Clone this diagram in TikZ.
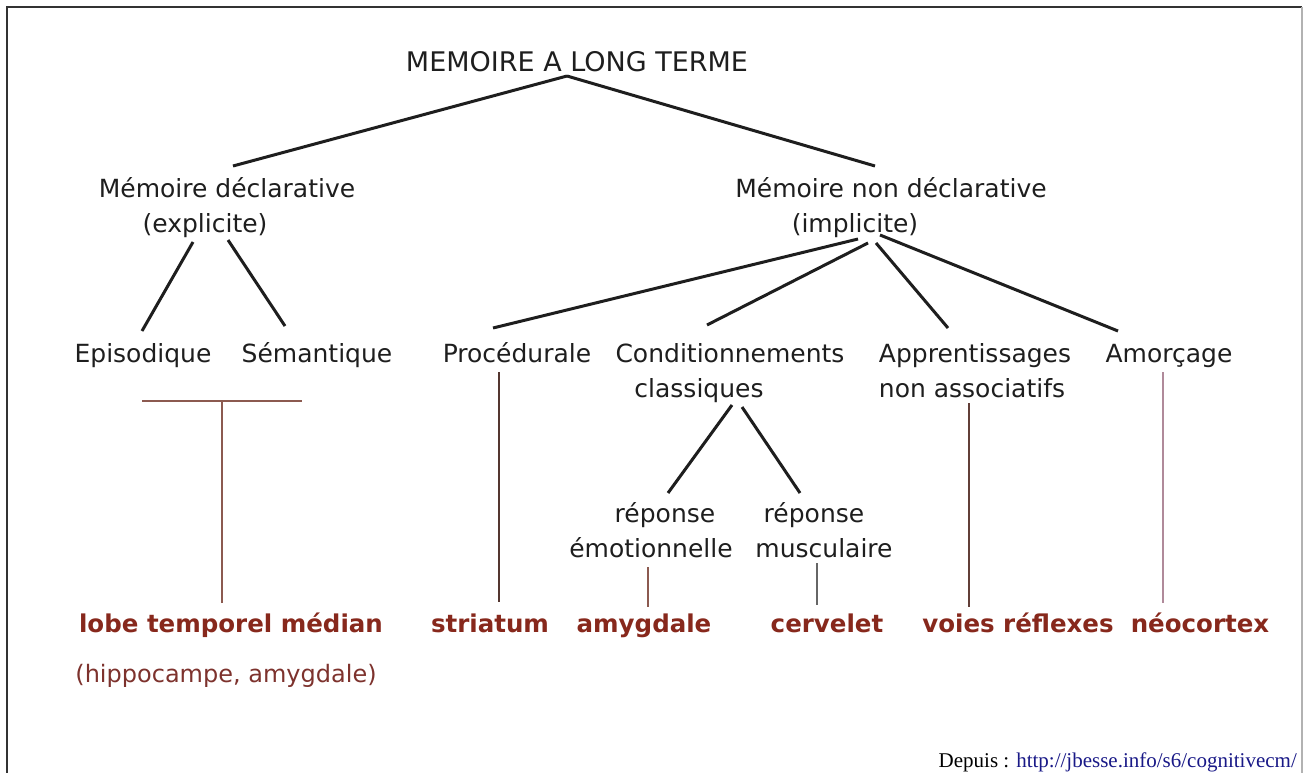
\documentclass[tikz,border=0pt]{standalone}
\usepackage{fontspec}
\setmainfont{DejaVu Sans}
\newfontfamily\srcfont{Liberation Serif}
\usepackage{tikz}
\usetikzlibrary{positioning}

\definecolor{ink}{RGB}{30,30,30}
\definecolor{brick}{RGB}{135,40,28}
\definecolor{rust}{RGB}{125,50,45}
\definecolor{urlblue}{RGB}{25,25,135}
\definecolor{brownline}{RGB}{140,90,80}
\definecolor{mauveline}{RGB}{176,138,154}

\begin{document}
\begin{tikzpicture}[x=1pt,y=-1pt,
    label/.style={anchor=base, inner sep=0pt, text=ink, font=\fontsize{25}{35}\selectfont},
    organ/.style={anchor=base, inner sep=0pt, text=brick, font=\bfseries\fontsize{24.5}{30}\selectfont},
    branch/.style={ink, line width=3pt},
    link/.style={brownline, line width=2pt}]

  \useasboundingbox (0,0) rectangle (1303,773);

  %frame
  \draw[black!80, line width=1.5pt] (7,773) -- (7,7) -- (1302,7);
  \draw[black!30, line width=1.5pt] (1302,7) -- (1302,773);

  %tree (two-line nodes sit on the baseline of their last line)
  \node[label, font=\fontsize{27}{35}\selectfont] (ltm) at (577,72) {MEMOIRE A LONG TERME};
  \node[label, align=center] (decl) at (227,232) {Mémoire déclarative\\(explicite)\hspace*{44pt}};
  \node[label, align=center] (ndecl) at (891,232) {Mémoire non déclarative\\(implicite)\hspace*{72pt}};

  \foreach \x/\txt/\name in {143/Episodique/epi, 317/Sémantique/sem, 517/Procédurale/proc, 1169/Amorçage/amor}{
      \node[label] (\name) at (\x,362) {\txt};
  }
  \node[label, align=center] (cond) at (730,397) {Conditionnements\\classiques\hspace*{62pt}};
  \node[label, align=left] (appr) at (975,397) {Apprentissages\\non associatifs};
  \node[label, align=center] (remo) at (651,557) {\hspace*{28pt}réponse\\émotionnelle};
  \node[label, align=center] (rmus) at (824,557) {réponse\hspace*{20pt}\\musculaire};

  \draw[branch] ([shift={(-10,4)}]ltm.base) -- ([shift={(6,-66)}]decl.base);
  \draw[branch] ([shift={(-10,4)}]ltm.base) -- ([shift={(-16,-66)}]ndecl.base);

  \draw[branch] ([shift={(-34,10)}]decl.base) -- ([shift={(-1,-31)}]epi.base);
  \draw[branch] ([shift={(1,8)}]decl.base) -- ([shift={(-32,-36)}]sem.base);

  \draw[branch] ([shift={(-33,7)}]ndecl.base) -- ([shift={(-24,-34)}]proc.base);
  \draw[branch] ([shift={(-23,11)}]ndecl.base) -- ([shift={(-23,-72)}]cond.base);
  \draw[branch] ([shift={(-15,11)}]ndecl.base) -- ([shift={(-27,-69)}]appr.base);
  \draw[branch] ([shift={(-11,3)}]ndecl.base) -- ([shift={(-51,-31)}]amor.base);

  \draw[branch] ([shift={(2,8)}]cond.base) -- ([shift={(17,-64)}]remo.base);
  \draw[branch] ([shift={(12,10)}]cond.base) -- ([shift={(-24,-64)}]rmus.base);

  %brain areas
  \foreach \x/\txt/\name in {231/lobe temporel médian/lobe, 490/striatum/stri, 644/amygdale/amyg,
                             827/cervelet/cerv, 1018/voies réflexes/voies, 1200/néocortex/neo}{
      \node[organ] (\name) at (\x,632) {\txt};
  }
  \node[label, text=rust, font=\fontsize{24}{30}\selectfont] (hippo) at (226,682) {(hippocampe, amygdale)};

  \draw[link] ([shift={(-1,39)}]epi.base) -- ([shift={(-15,39)}]sem.base);
  \draw[link] ([shift={(-9,-29)}]lobe.base) -- ++(0,-201);
  \draw[link, black!40!brownline] ([shift={(-18,10)}]proc.base) -- ([shift={(9,-30)}]stri.base);
  \draw[link] ([shift={(-3,10)}]remo.base) -- ([shift={(4,-25)}]amyg.base);
  \draw[link, black!60] ([shift={(-7,6)}]rmus.base) -- ([shift={(-10,-27)}]cerv.base);
  \draw[link, black!30!brownline] ([shift={(-6,6)}]appr.base) -- ([shift={(-49,-25)}]voies.base);
  \draw[link, mauveline] ([shift={(-6,10)}]amor.base) -- ([shift={(-37,-29)}]neo.base);

  %source
  \node[anchor=base east, inner sep=0pt, font=\srcfont\fontsize{21}{25}\selectfont] (src) at (1297,767)
      {Depuis : \textcolor{urlblue}{http://jbesse.info/s6/cognitivecm/}};

\end{tikzpicture}
\end{document}
